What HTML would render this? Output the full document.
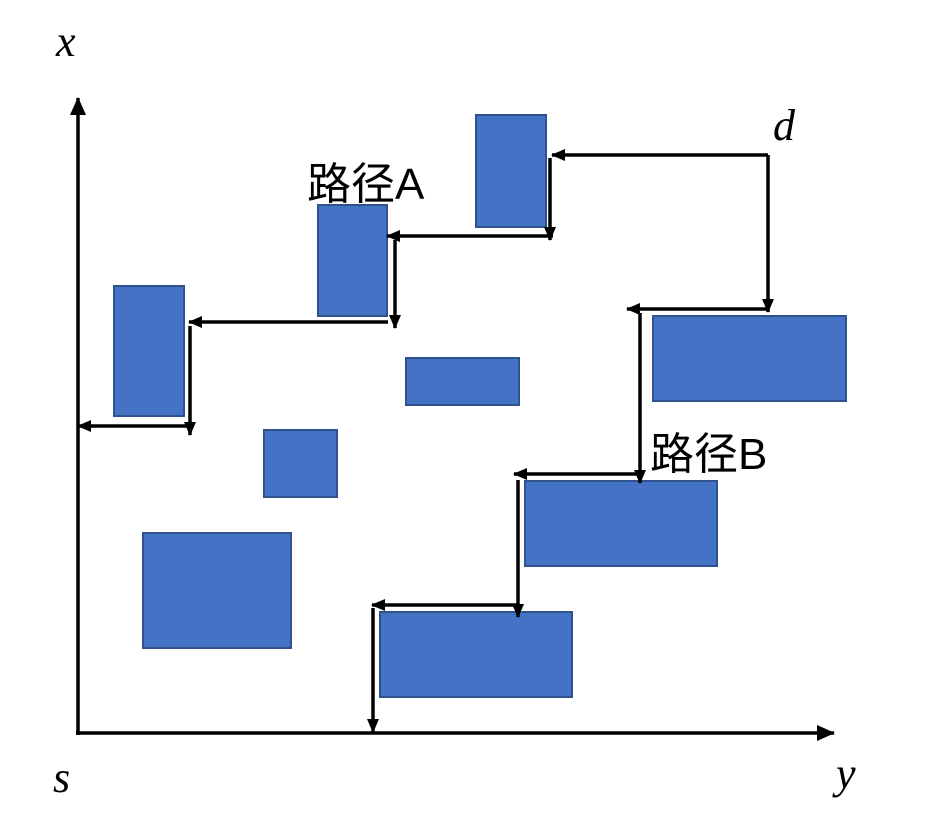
<!DOCTYPE html>
<html><head><meta charset="utf-8"><style>
html,body{margin:0;padding:0;background:#fff;}
svg{display:block;}
.lbl{font-family:"Liberation Serif",serif;font-style:italic;font-size:44px;fill:#000;}
.cjk{font-family:"Liberation Sans","Noto Sans CJK SC",sans-serif;font-size:44px;fill:#000;}
</style></head><body>
<svg id="chart" width="929" height="819" viewBox="0 0 929 819">
<defs>
<marker id="ah" markerWidth="14" markerHeight="14" refX="13" refY="6" orient="auto" markerUnits="userSpaceOnUse">
<path d="M0,0 L14,6 L0,12 z" fill="#000"/>
</marker>
<marker id="ahBig" markerWidth="18" markerHeight="16" refX="17" refY="8" orient="auto" markerUnits="userSpaceOnUse">
<path d="M0,0 L18,8 L0,16 z" fill="#000"/>
</marker>
</defs>
<line x1="78" y1="735" x2="78" y2="98" stroke="#000" stroke-width="3.5" marker-end="url(#ahBig)"/>
<line x1="76" y1="733" x2="834" y2="733" stroke="#000" stroke-width="3.5" marker-end="url(#ahBig)"/>
<text class="lbl" x="56" y="56">x</text>
<text class="lbl" x="836" y="788">y</text>
<text class="lbl" x="53" y="792">s</text>
<text class="lbl" x="773" y="140">d</text>
<text class="cjk" x="307" y="199">路径A</text>
<text class="cjk" x="650" y="469">路径B</text>
<g id="blocks"></g>
<g id="arrows"></g>
</svg>
<script>
const blockX = [476, 318, 114, 406, 264, 143, 653, 525, 380];
const blockY = [115, 205, 286, 358, 430, 533, 316, 481, 612];
const blockW = [70, 69, 70, 113, 73, 148, 193, 192, 192];
const blockH = [112, 111, 130, 47, 67, 115, 85, 85, 85];
// path segments: [x1,y1,x2,y2]
const pathA = [[768,155,552,155],[550,158,550,240],[553,236,387,236],[395,240,395,328],[388,322,189,322],[190,326,190,435],[190,426,78,426]];
const pathB = [[768,155,768,312],[768,309,627,309],[640,313,640,483],[640,474,514,474],[518,480,518,617],[518,605,372,605],[373,608,373,732]];
const NS = "http://www.w3.org/2000/svg";
const gB = document.getElementById('blocks');
for (let i = 0; i < blockX.length; i++) {
  const r = document.createElementNS(NS, 'rect');
  r.setAttribute('x', blockX[i]); r.setAttribute('y', blockY[i]);
  r.setAttribute('width', blockW[i]); r.setAttribute('height', blockH[i]);
  r.setAttribute('fill', '#4472c4'); r.setAttribute('stroke', '#2f528f'); r.setAttribute('stroke-width', '2');
  
  
  gB.appendChild(r);
}
const gA = document.getElementById('arrows');
function drawPath(segs, name) {
  segs.forEach((s, i) => {
    const l = document.createElementNS(NS, 'line');
    l.setAttribute('x1', s[0]); l.setAttribute('y1', s[1]);
    l.setAttribute('x2', s[2]); l.setAttribute('y2', s[3]);
    l.setAttribute('stroke', '#000'); l.setAttribute('stroke-width', '3.5');
    l.setAttribute('marker-end', 'url(#ah)');
    
    
    gA.appendChild(l);
  });
}
drawPath(pathA, 'path-a');
drawPath(pathB, 'path-b');
</script>
</body></html>
